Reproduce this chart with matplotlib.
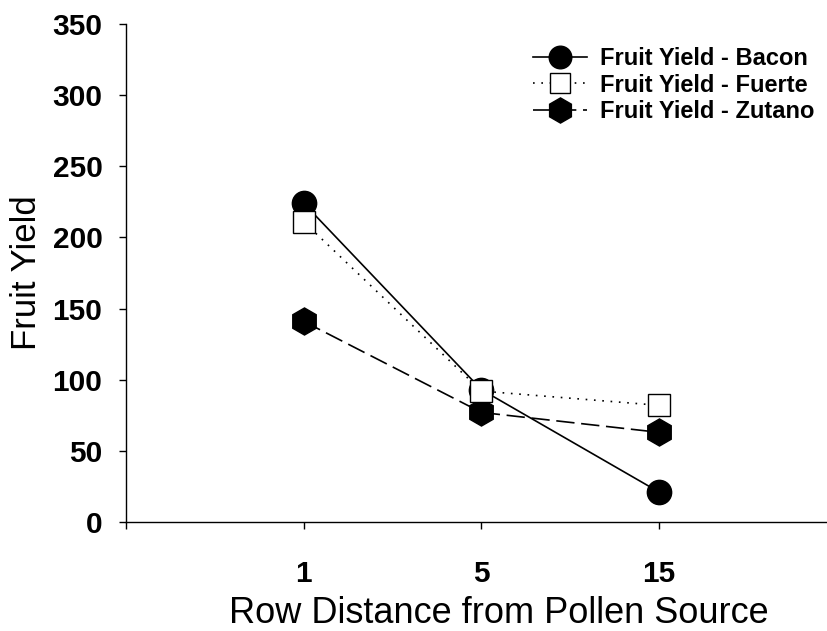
import matplotlib
matplotlib.use("Agg")
import matplotlib.pyplot as plt

distances = ["1", "5", "15"]
bacon = [224, 93, 21]
fuerte = [211, 92, 82]
zutano = [141, 77, 63]
yticks = [0, 50, 100, 150, 200, 250, 300, 350]

plt.rcParams['font.family'] = ['Liberation Sans', 'DejaVu Sans']

fig = plt.figure(figsize=(8.28, 6.31), dpi=100)
ax = fig.add_axes([126/828, (631-522)/631, 1 - 126/828, (522-24)/631])

xs = [1, 2, 3]
ax.plot(xs, bacon, color='black', linestyle='-', linewidth=1.2, marker='o',
        markersize=17.5, markerfacecolor='black', markeredgecolor='black',
        label='Fruit Yield - Bacon', zorder=3)
ax.plot(xs, fuerte, color='black', linestyle=(0, (1, 4)), linewidth=1.2, marker='s',
        markersize=16, markerfacecolor='white', markeredgecolor='black',
        markeredgewidth=1.0, label='Fruit Yield - Fuerte', zorder=4)
ax.plot(xs, zutano, color='black', linestyle=(0, (11, 4)), linewidth=1.2, marker='h',
        markersize=19.5, markerfacecolor='black', markeredgecolor='black',
        label='Fruit Yield - Zutano', zorder=3)

ax.set_xlim(0, 3.95)
ax.set_ylim(0, 350)
ax.set_xticks([0] + xs)
ax.set_xticklabels([""] + distances)
ax.set_yticks(yticks)
ax.set_yticklabels([str(v) for v in yticks])

for s in ['top', 'right']:
    ax.spines[s].set_visible(False)
for s in ['left', 'bottom']:
    ax.spines[s].set_linewidth(1.0)

ax.tick_params(axis='both', direction='out', length=5, width=1.0,
               labelsize=21.5)
ax.tick_params(axis='y', pad=12)
ax.tick_params(axis='x', pad=22)
for lab in ax.get_xticklabels() + ax.get_yticklabels():
    lab.set_fontweight('bold')

ax.set_xlabel('Row Distance from Pollen Source', fontsize=26)
ax.xaxis.set_label_coords((499 - 126) / 702, -0.148)
ax.set_ylabel('Fruit Yield', fontsize=25, labelpad=7)

leg = ax.legend(loc='upper left', bbox_to_anchor=(533 / 828, 1 - 47 / 631),
                bbox_transform=fig.transFigure, frameon=False,
                borderaxespad=0, borderpad=0,
                prop={'size': 17, 'weight': 'bold'}, handlelength=2.3,
                labelspacing=0.15, handletextpad=0.55, markerscale=0.93)

fig.savefig('out.png', dpi=100)
